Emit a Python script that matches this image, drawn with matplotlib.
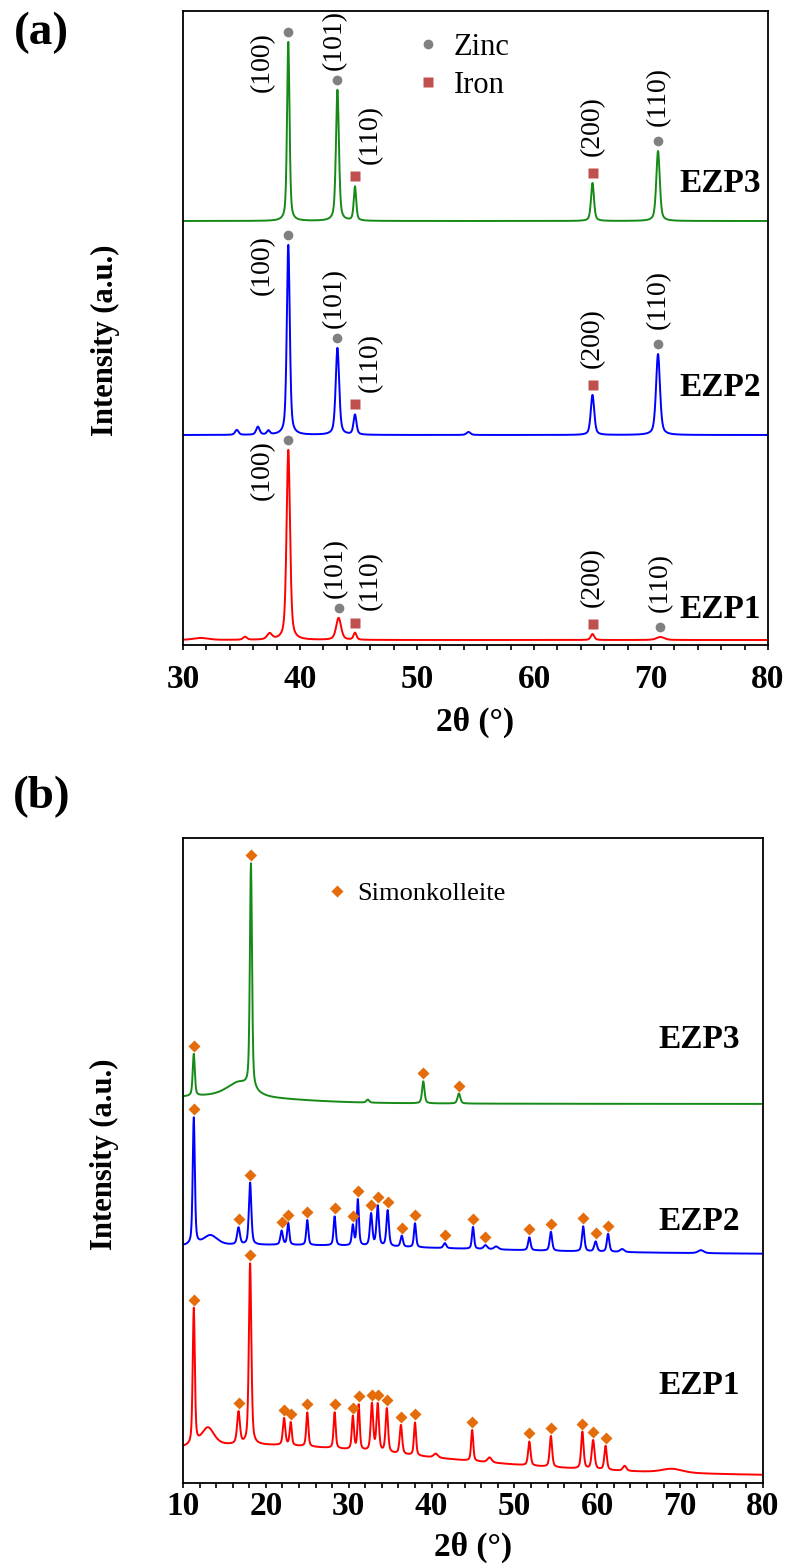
import numpy as np
import matplotlib.pyplot as plt
from matplotlib.lines import Line2D
from matplotlib.ticker import MultipleLocator

plt.rcParams['font.family'] = ['Liberation Serif', 'DejaVu Serif']

# ---------------- data : panel (a), 2theta 30-80 ----------------
# peak tables: position (deg), height, fwhm (deg)
a_ezp1_base = 5
a_ezp1_pos = [31.5, 35.3, 37.4, 39.0, 43.3, 44.7, 65.0, 70.8]
a_ezp1_h   = [2, 3, 6, 190, 22, 7, 6, 3]
a_ezp1_w   = [1.5, 0.4, 0.5, 0.35, 0.5, 0.3, 0.35, 0.8]

a_ezp2_base = 210
a_ezp2_pos = [34.6, 36.4, 37.3, 39.0, 43.2, 44.7, 54.4, 65.0, 70.6]
a_ezp2_h   = [5, 8, 4, 190, 87, 20, 3, 40, 81]
a_ezp2_w   = [0.35, 0.35, 0.3, 0.3, 0.35, 0.3, 0.4, 0.35, 0.4]

a_ezp3_base = 424
a_ezp3_pos = [39.0, 43.2, 44.7, 65.0, 70.6]
a_ezp3_h   = [179, 131, 34, 38, 70]
a_ezp3_w   = [0.25, 0.3, 0.25, 0.3, 0.35]

# reflections marked on each pattern
zinc_pos = [[39.0, 43.3, 70.8], [39.0, 43.2, 70.6], [39.0, 43.2, 70.6]]
zinc_hkl = ['(100)', '(101)', '(110)']
iron_pos = [[44.7, 65.0], [44.7, 65.0], [44.7, 65.0]]
iron_hkl = ['(110)', '(200)']

# ---------------- data : panel (b), 2theta 10-80 ----------------
b_ezp1_base = 9
b_ezp1_pos = [18.0, 13.0, 11.3, 16.7, 18.1, 22.2, 23.0, 25.0, 28.3, 30.5, 31.2, 32.8,
              33.5, 34.6, 36.3, 38.0, 40.5, 44.9, 47.0, 51.8, 54.4, 58.2, 59.5, 61.0,
              63.3, 69.0]
b_ezp1_h   = [33, 18, 136, 32, 181, 27, 23, 34, 36, 33, 45, 47,
              47, 44, 29, 33, 4, 31, 5, 24, 31, 37, 29, 24,
              5, 4]
b_ezp1_w   = [55, 1.8, 0.3, 0.4, 0.35, 0.35, 0.3, 0.3, 0.3, 0.3, 0.3, 0.35,
              0.35, 0.35, 0.35, 0.3, 0.6, 0.3, 0.6, 0.35, 0.35, 0.35, 0.4, 0.35,
              0.5, 3.0]

b_ezp2_base = 232
b_ezp2_pos = [20.0, 13.3, 11.3, 16.7, 18.1, 21.9, 22.7, 25.0, 28.3, 30.5, 31.1, 32.7,
              33.5, 34.7, 36.4, 38.0, 41.6, 45.0, 46.5, 47.8, 51.8, 54.4, 58.3, 59.8,
              61.3, 63.0, 72.5]
b_ezp2_h   = [10, 10, 127, 17, 62, 14, 22, 25, 29, 20, 46, 32,
              40, 36, 11, 24, 5, 22, 4, 3, 13, 19, 25, 10,
              18, 3, 3]
b_ezp2_w   = [60, 2.0, 0.3, 0.4, 0.35, 0.35, 0.3, 0.3, 0.3, 0.3, 0.3, 0.35,
              0.35, 0.35, 0.35, 0.3, 0.4, 0.3, 0.5, 0.6, 0.35, 0.35, 0.35, 0.4,
              0.35, 0.6, 0.8]

b_ezp3_base = 383
b_ezp3_pos = [14.0, 16.8, 11.3, 18.2, 32.3, 39.0, 43.3]
b_ezp3_h   = [8, 14, 42, 225, 3, 22, 10]
b_ezp3_w   = [20, 3.5, 0.3, 0.3, 0.4, 0.35, 0.4]

simon_pos = [
    [11.3, 16.7, 18.1, 22.2, 23.0, 25.0, 28.3, 30.5, 31.2, 32.8, 33.5, 34.6, 36.3,
     38.0, 44.9, 51.8, 54.4, 58.2, 59.5, 61.0],
    [11.3, 16.7, 18.1, 21.9, 22.7, 25.0, 28.3, 30.5, 31.1, 32.7, 33.5, 34.7, 36.4,
     38.0, 41.6, 45.0, 46.5, 51.8, 54.4, 58.3, 59.8, 61.3],
    [11.3, 18.2, 39.0, 43.3],
]

sample_names = ['EZP1', 'EZP2', 'EZP3']
line_colors = ['#ff0000', '#0000ff', '#168a16']


def pattern(x, base, pos, h, w):
    # pseudo-Voigt peaks built from the peak table
    y = np.full_like(x, float(base))
    for p, hh, ww in zip(pos, h, w):
        d = (x - p) / (ww / 2.0)
        y += hh * (0.5 / (1 + d ** 2) + 0.5 * np.exp(-np.log(2) * d ** 2))
    return y


fig = plt.figure(figsize=(7.9, 15.65), dpi=100)
ax_a = fig.add_axes([183 / 790, 1 - 645 / 1565, 585 / 790, 634 / 1565])
ax_b = fig.add_axes([183 / 790, 1 - 1483 / 1565, 580 / 790, 645 / 1565])

gap = 10  # marker distance above the peak top


def style_axes(ax, xlo, xhi, ylo, yhi, pad):
    ax.set_xlim(xlo, xhi)
    ax.set_ylim(ylo, yhi)
    ax.set_yticks([])
    ax.xaxis.set_major_locator(MultipleLocator(10))
    ax.xaxis.set_minor_locator(MultipleLocator(2))
    ax.tick_params(axis='x', which='both', direction='out', length=3.5, width=1.2,
                   labelsize=24, pad=pad)
    for lab in ax.get_xticklabels():
        lab.set_fontweight('bold')
    for sp in ax.spines.values():
        sp.set_linewidth(1.3)
    ax.set_xlabel('2θ (°)', fontsize=24, fontweight='bold', va='center')
    ax.set_ylabel('Intensity (a.u.)', fontsize=22, fontweight='bold', va='center')


# ---------------- panel (a) ----------------
xa = np.arange(30, 80.001, 0.02)
a_tables = [(a_ezp1_base, a_ezp1_pos, a_ezp1_h, a_ezp1_w),
            (a_ezp2_base, a_ezp2_pos, a_ezp2_h, a_ezp2_w),
            (a_ezp3_base, a_ezp3_pos, a_ezp3_h, a_ezp3_w)]
a_curves = []
for tab, col in zip(a_tables, line_colors):
    ya = pattern(xa, *tab)
    a_curves.append(ya)
    ax_a.plot(xa, ya, color=col, lw=1.4)

# label offsets (points) relative to the marker
zn_off = [(-19, -22), (-2, 7), (0, 11)]
zn_va = ['center', 'bottom', 'bottom']
fe_off = [(11, 9), (0, 12)]
for i, ya in enumerate(a_curves):
    for p, hkl, off, va in zip(zinc_pos[i], zinc_hkl, zn_off, zn_va):
        yy = np.interp(p, xa, ya) + gap
        ax_a.plot(p, yy, 'o', color='#808080', ms=7, mec='none')
        ax_a.annotate(hkl, (p, yy), xytext=off, textcoords='offset points',
                      rotation=90, ha='center', va=va, fontsize=20)
    for p, hkl, off in zip(iron_pos[i], iron_hkl, fe_off):
        yy = np.interp(p, xa, ya) + gap
        ax_a.plot(p, yy, 's', color='#c0504d', ms=7, mec='none')
        ax_a.annotate(hkl, (p, yy), xytext=off, textcoords='offset points',
                      rotation=90, ha='center', va='bottom', fontsize=20)

for name, yl in zip(sample_names, [36, 257, 461]):
    ax_a.text(75.9, yl, name, fontsize=24, fontweight='bold', ha='center', va='center')

leg_a = [Line2D([], [], ls='none', marker='o', color='#808080', mec='none', ms=7),
         Line2D([], [], ls='none', marker='s', color='#c0504d', mec='none', ms=7)]
ax_a.legend(leg_a, ['Zinc', 'Iron'], loc='upper left', bbox_to_anchor=(0.40, 0.966),
            frameon=False, fontsize=22, handlelength=0.7, handletextpad=0.5,
            labelspacing=0.3, borderpad=0, borderaxespad=0)

style_axes(ax_a, 30, 80, 0, 634, 10.5)
ax_a.xaxis.set_label_coords(0.5, -0.1215)
ax_a.yaxis.set_label_coords(-0.133, 0.48)

# ---------------- panel (b) ----------------
xb = np.arange(10, 80.001, 0.02)
b_tables = [(b_ezp1_base, b_ezp1_pos, b_ezp1_h, b_ezp1_w),
            (b_ezp2_base, b_ezp2_pos, b_ezp2_h, b_ezp2_w),
            (b_ezp3_base, b_ezp3_pos, b_ezp3_h, b_ezp3_w)]
for i, (tab, col) in enumerate(zip(b_tables, line_colors)):
    yb = pattern(xb, *tab)
    ax_b.plot(xb, yb, color=col, lw=1.4)
    pk = np.array(simon_pos[i])
    ax_b.plot(pk, np.interp(pk, xb, yb) + 8, 'D', color='#e46c0a', ms=6, mec='none')

for name, yl in zip(sample_names, [102, 265, 447]):
    ax_b.text(72.3, yl, name, fontsize=24, fontweight='bold', ha='center', va='center')

leg_b = [Line2D([], [], ls='none', marker='D', color='#e46c0a', mec='none', ms=6)]
ax_b.legend(leg_b, ['Simonkolleite'], loc='upper left', bbox_to_anchor=(0.25, 0.932),
            frameon=False, fontsize=19, handlelength=0.7, handletextpad=0.4,
            borderpad=0, borderaxespad=0)

style_axes(ax_b, 10, 80, 4, 649, 2)
ax_b.xaxis.set_label_coords(0.5, -(1547 - 1483) / 645)
ax_b.yaxis.set_label_coords(-0.135, 0.51)

fig.text(0.053, 1 - 33 / 1565, '(a)', fontsize=34, fontweight='bold', ha='center', va='center')
fig.text(0.053, 1 - 797 / 1565, '(b)', fontsize=34, fontweight='bold', ha='center', va='center')

fig.savefig('out.png', dpi=100)
